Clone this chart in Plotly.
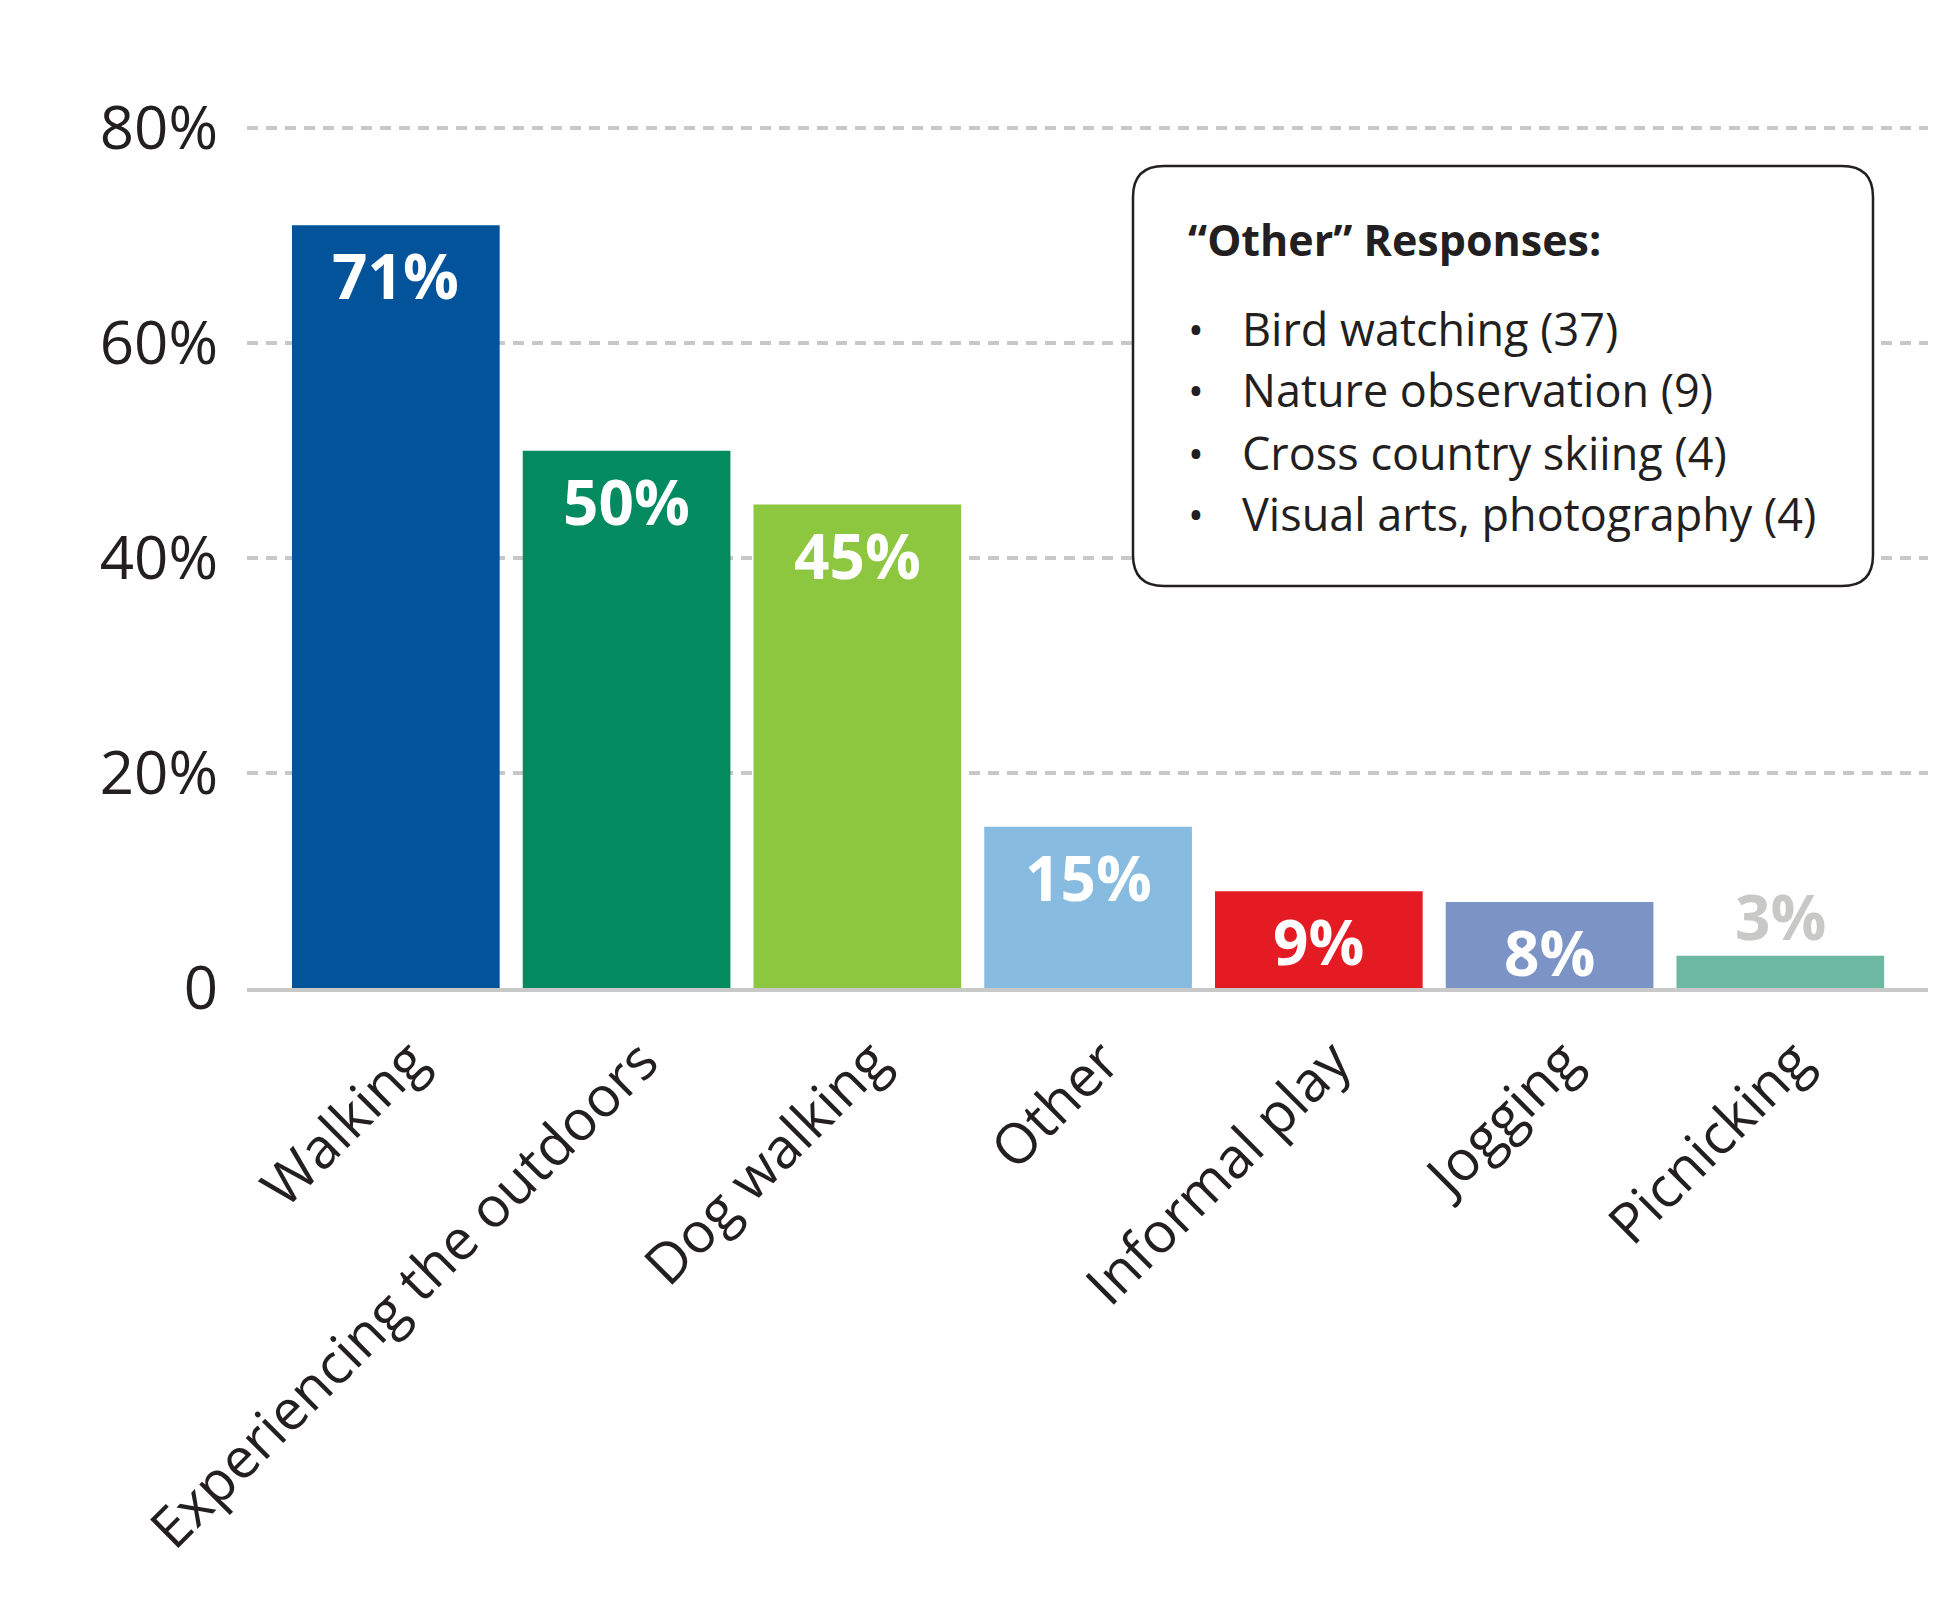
import plotly.graph_objects as go

# ---- data ----
categories = ["Walking", "Experiencing the outdoors", "Dog walking", "Other",
              "Informal play", "Jogging", "Picnicking"]
values = [71, 50, 45, 15, 9, 8, 3]
bar_colors = ["#03539B", "#038A5E", "#8DC63F", "#88BBE0", "#E51B24", "#7B93C5", "#6DB8A0"]
y_tickvals = [0, 20, 40, 60, 80]
y_ticktext = ["0", "20%", "40%", "60%", "80%"]
other_title = "“Other” Responses:"
other_items = ["Bird watching (37)", "Nature observation (9)",
               "Cross country skiing (4)", "Visual arts, photography (4)"]

FONT = "Open Sans"
TXT = "#231F20"
W, H = 1938, 1614
OFF = 8  # page body margin
ML, MR, MT, MB = 239, 18, 99, 634
PW = W - ML - MR
PH = H - MT - MB
X_RANGE = [-0.645, 6.64]
LABEL_SHIFT = 0.065  # tick labels sit slightly right of bar centres
positions = list(range(len(categories)))


def px(x):
    return (x - OFF - ML) / PW


def py(y):
    return (MT + PH - (y - OFF)) / PH


fig = go.Figure()
fig.add_trace(go.Bar(
    x=categories, y=values,
    marker=dict(color=bar_colors, line=dict(width=0)),
    width=0.9, hoverinfo="skip",
))
# invisible companion trace so the label axis (x2) is drawn
fig.add_trace(go.Scatter(
    x=positions, y=values, xaxis="x2", yaxis="y",
    mode="none", hoverinfo="skip", showlegend=False,
))

annotations = []
for c, v in zip(categories, values):
    if v >= 5:
        annotations.append(dict(
            x=c, y=v, xref="x", yref="y", text=f"{v}%", showarrow=False,
            yanchor="middle", yshift=-50,
            font=dict(family=FONT, size=62, color="white", weight="bold")))
    else:
        annotations.append(dict(
            x=c, y=v, xref="x", yref="y", text=f"{v}%", showarrow=False,
            yanchor="bottom", yshift=-4,
            font=dict(family=FONT, size=62, color="#C8C8C6", weight="bold")))

# "Other" responses box (absolute page pixels)
bx0, by0, bx1, by1, r = 1133, 166, 1873, 586, 31
path = (f"M {px(bx0 + r)} {py(by0)} L {px(bx1 - r)} {py(by0)} "
        f"Q {px(bx1)} {py(by0)} {px(bx1)} {py(by0 + r)} "
        f"L {px(bx1)} {py(by1 - r)} "
        f"Q {px(bx1)} {py(by1)} {px(bx1 - r)} {py(by1)} "
        f"L {px(bx0 + r)} {py(by1)} "
        f"Q {px(bx0)} {py(by1)} {px(bx0)} {py(by1 - r)} "
        f"L {px(bx0)} {py(by0 + r)} "
        f"Q {px(bx0)} {py(by0)} {px(bx0 + r)} {py(by0)} Z")
shapes = [dict(type="path", xref="paper", yref="paper", path=path,
               fillcolor="white", line=dict(color="#231F20", width=2.5), layer="above")]

annotations.append(dict(
    x=px(1186), y=py(239), xref="paper", yref="paper", text=f"<b>{other_title}</b>",
    showarrow=False, xanchor="left", yanchor="middle",
    font=dict(family=FONT, size=43, color=TXT)))
line_y = [328, 390, 452, 514]
for item, yy in zip(other_items, line_y):
    annotations.append(dict(
        x=px(1196), y=py(yy), xref="paper", yref="paper", text="•",
        showarrow=False, xanchor="center", yanchor="middle",
        font=dict(family=FONT, size=42, color=TXT)))
    annotations.append(dict(
        x=px(1240), y=py(yy), xref="paper", yref="paper", text=item,
        showarrow=False, xanchor="left", yanchor="middle",
        font=dict(family=FONT, size=45, color=TXT)))

fig.update_layout(
    width=W, height=H,
    margin=dict(l=ML, r=MR, t=MT, b=MB, pad=0),
    plot_bgcolor="white", paper_bgcolor="white",
    showlegend=False, bargap=0.1,
    shapes=shapes, annotations=annotations,
    font=dict(family=FONT, color=TXT),
    xaxis=dict(
        range=X_RANGE, showgrid=False, zeroline=False,
        showline=True, linecolor="#C8C8C8", linewidth=4,
        ticks="", showticklabels=False,
    ),
    xaxis2=dict(
        overlaying="x", anchor="y", side="bottom", type="linear",
        range=[X_RANGE[0] - LABEL_SHIFT, X_RANGE[1] - LABEL_SHIFT],
        tickmode="array", tickvals=positions, ticktext=categories,
        showgrid=False, zeroline=False, showline=False, ticks="",
        tickangle=-45, tickfont=dict(family=FONT, size=56, color=TXT),
        ticklabelstandoff=28,
    ),
    yaxis=dict(
        range=[0, 82], tickvals=y_tickvals, ticktext=y_ticktext,
        showgrid=True, gridcolor="#C8C8C8", gridwidth=3.5, griddash="11px,8px",
        zeroline=False, showline=False, ticks="",
        tickfont=dict(family=FONT, size=60, color=TXT),
        ticklabelstandoff=28,
    ),
)

fig.write_html("out.html")
